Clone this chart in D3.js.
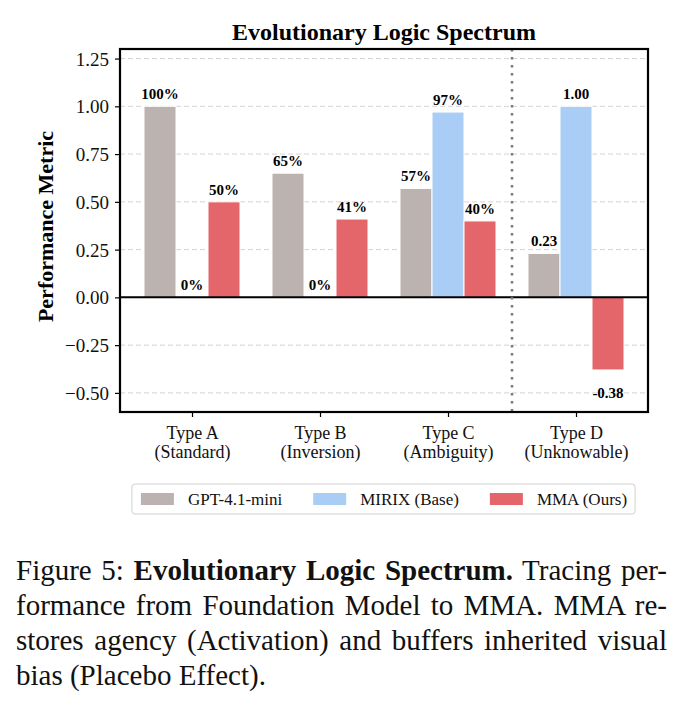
<!DOCTYPE html>
<html>
<head>
<meta charset="utf-8">
<script src="https://cdn.jsdelivr.net/npm/d3@7"></script>
<style>
	body { margin: 0; background: #fff; }
	#wrap { position: relative; width: 691px; height: 709px; }
	svg { position: absolute; left: 0; top: 0; }
	#caption { position: absolute; left: 16px; top: 553px; width: 651px;
		font-family: "Liberation Serif", "Times New Roman", serif; font-size: 29px; line-height: 35px; color: #111; }
	#caption .ln { text-align: justify; text-align-last: justify; white-space: nowrap; }
	#caption .ln.last { text-align-last: left; }
</style>
</head>
<body>
<div id="wrap">
	<svg id="chart" width="691" height="540"></svg>
	<div id="caption">
		<div class="ln">Figure 5: <b>Evolutionary Logic Spectrum.</b> Tracing per-</div>
		<div class="ln">formance from Foundation Model to MMA. MMA re-</div>
		<div class="ln">stores agency (Activation) and buffers inherited visual</div>
		<div class="ln last">bias (Placebo Effect).</div>
	</div>
</div>
<script>
var categories = ["Type A", "Type B", "Type C", "Type D"];
var subLabels = ["(Standard)", "(Inversion)", "(Ambiguity)", "(Unknowable)"];
var labelFormat = ["pct", "pct", "pct", "dec"];
var seriesNames = ["GPT-4.1-mini", "MIRIX (Base)", "MMA (Ours)"];
var gptValues = [1.00, 0.65, 0.57, 0.23];
var mirixValues = [0.00, 0.00, 0.97, 1.00];
var mmaValues = [0.50, 0.41, 0.40, -0.38];
var yTicks = [-0.50, -0.25, 0.00, 0.25, 0.50, 0.75, 1.00, 1.25];

var colours = ["#bcb3b1", "#a9cdf4", "#e4666b"];
var serif = "'Liberation Serif', 'Times New Roman', serif";

var margin = { left: 120, right: 43, top: 49, bottom: 128 };
var width = 691 - margin.left - margin.right;
var height = 540 - margin.top - margin.bottom;
var barW = 0.25;

var svg = d3.select("#chart");
var g = svg.append("g").attr("transform", "translate(" + margin.left + "," + margin.top + ")");

var x = d3.scaleLinear().domain([-0.5625, 3.5625]).range([0, width]);
var y = d3.scaleLinear().domain([-0.6, 1.3]).range([height, 0]);

// grid
g.append("g").selectAll("line")
	.data(yTicks)
	.enter().append("line")
	.attr("x1", 0).attr("x2", width)
	.attr("y1", function(d) { return y(d); })
	.attr("y2", function(d) { return y(d); })
	.attr("stroke", "#d4d4d4")
	.attr("stroke-width", 1)
	.attr("stroke-dasharray", "5,3");

// bars
var series = [gptValues, mirixValues, mmaValues];
var bars = [];
series.forEach(function(vals, si) {
	vals.forEach(function(v, ci) {
		bars.push({ s: si, c: ci, v: v });
	});
});

g.append("g").selectAll("rect")
	.data(bars)
	.enter().append("rect")
	.attr("x", function(d) { return x(d.c + (d.s - 1) * barW - barW / 2); })
	.attr("width", x(barW) - x(0))
	.attr("y", function(d) { return y(Math.max(0, d.v)); })
	.attr("height", function(d) { return Math.abs(y(d.v) - y(0)); })
	.attr("fill", function(d) { return colours[d.s]; })
	.attr("stroke", "#fff")
	.attr("stroke-width", 1);

// value labels
g.append("g").selectAll("text")
	.data(bars.filter(function(d) { return !(labelFormat[d.c] == "dec" && d.v == 0); }))
	.enter().append("text")
	.attr("x", function(d) { return x(d.c + (d.s - 1) * barW); })
	.attr("y", function(d) {
		if (d.v < 0) return y(d.v - 0.12) + 5;
		return y(d.v) - 7;
	})
	.attr("text-anchor", "middle")
	.style("font-family", serif)
	.style("font-weight", "bold")
	.style("font-size", "15px")
	.text(function(d) {
		if (labelFormat[d.c] == "pct") return Math.round(d.v * 100) + "%";
		return d.v.toFixed(2);
	});

// zero line + divider
g.append("line")
	.attr("x1", 0).attr("x2", width)
	.attr("y1", y(0)).attr("y2", y(0))
	.attr("stroke", "#000").attr("stroke-width", 2);

g.append("line")
	.attr("x1", x(2.5)).attr("x2", x(2.5))
	.attr("y1", 0).attr("y2", height)
	.attr("stroke", "#7a7a7a").attr("stroke-width", 2.5)
	.attr("stroke-dasharray", "2.5,5.5");

// axes
var yAxis = g.append("g")
	.call(d3.axisLeft(y).tickValues(yTicks).tickSize(5).tickPadding(6)
		.tickFormat(function(d) { return d3.format(".2f")(d).replace("-", "\u2212"); }));
yAxis.select(".domain").remove();
yAxis.selectAll("line").attr("stroke", "#000").attr("stroke-width", 1.2);
yAxis.selectAll("text")
	.style("font-family", serif).style("font-size", "19px").attr("fill", "#111").attr("dy", "0.34em");

var xAxis = g.append("g")
	.attr("transform", "translate(0," + height + ")")
	.call(d3.axisBottom(x).tickValues([0, 1, 2, 3]).tickSize(5).tickFormat(""));
xAxis.select(".domain").remove();
xAxis.selectAll("line").attr("stroke", "#000").attr("stroke-width", 1.2);

xAxis.selectAll(".tick").append("text")
	.attr("text-anchor", "middle")
	.attr("fill", "#111")
	.style("font-family", serif)
	.style("font-size", "18px")
	.each(function(d) {
		var t = d3.select(this);
		t.append("tspan").attr("x", 0).attr("y", 27).text(categories[d]);
		t.append("tspan").attr("x", 0).attr("y", 46).text(subLabels[d]);
	});

// frame
g.append("rect")
	.attr("width", width).attr("height", height)
	.attr("fill", "none").attr("stroke", "#000").attr("stroke-width", 2.2);

// title and y label
svg.append("text")
	.attr("x", margin.left + width / 2).attr("y", 40)
	.attr("text-anchor", "middle")
	.style("font-family", serif).style("font-weight", "bold").style("font-size", "24px")
	.text("Evolutionary Logic Spectrum");

svg.append("text")
	.attr("transform", "translate(53," + (margin.top + height / 2 - 4) + ") rotate(-90)")
	.attr("text-anchor", "middle")
	.style("font-family", serif).style("font-weight", "bold").style("font-size", "22px")
	.text("Performance Metric");

// legend
var legend = svg.append("g");
var lgBox = legend.append("rect");
var sw = 33, gapText = 14, colGap = 31;
var cx = 0;
seriesNames.forEach(function(name, i) {
	var it = legend.append("g").attr("transform", "translate(" + cx + ",0)");
	it.append("rect").attr("x", 0).attr("y", -6).attr("width", sw).attr("height", 12)
		.attr("fill", colours[i]);
	var t = it.append("text").attr("x", sw + gapText).attr("y", 6)
		.style("font-family", serif).style("font-size", "17px").attr("fill", "#111")
		.text(name);
	cx += sw + gapText + t.node().getComputedTextLength() + colGap;
});
var lgW = cx - colGap;
var lgX = margin.left + width / 2 - lgW / 2;
legend.attr("transform", "translate(" + lgX + ",499)");
lgBox.attr("x", -9).attr("y", -15).attr("width", lgW + 17).attr("height", 30)
	.attr("rx", 3).attr("fill", "#fff").attr("stroke", "#d0d0d0").attr("stroke-width", 1);
</script>
</body>
</html>
